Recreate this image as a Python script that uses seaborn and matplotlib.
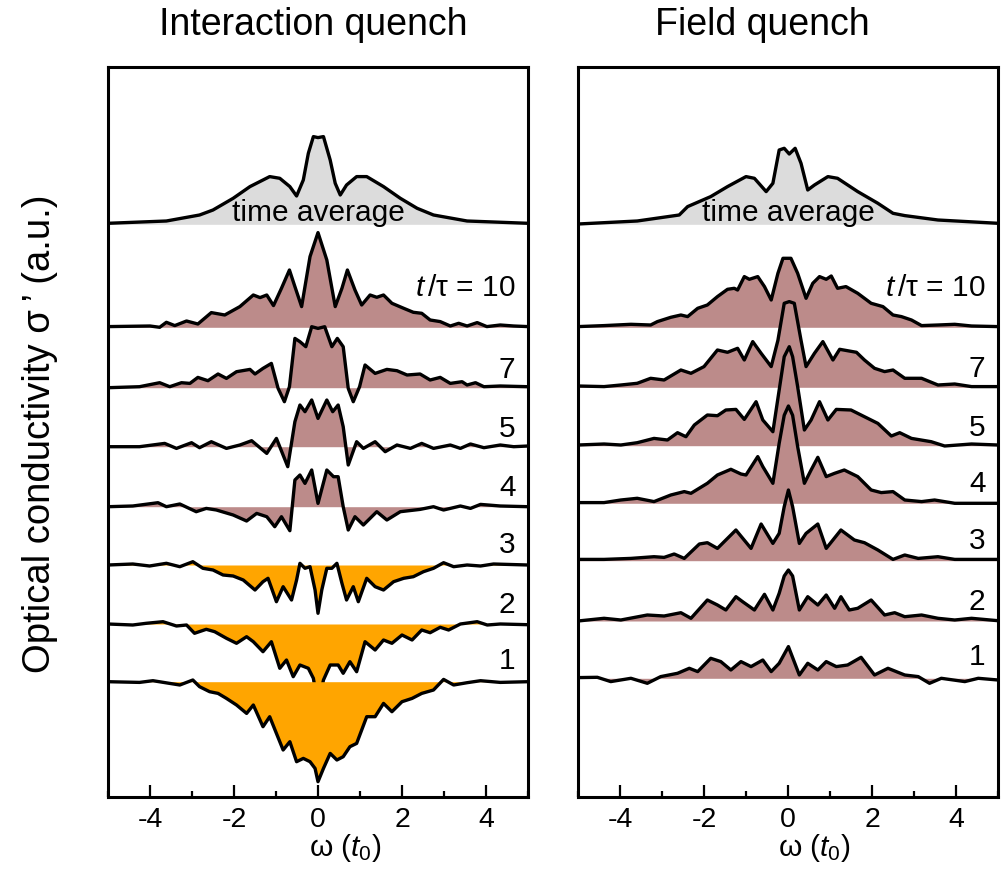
import numpy as np
import pandas as pd
import matplotlib
matplotlib.use("Agg")
import matplotlib.pyplot as plt
import seaborn as sns
from matplotlib.ticker import MultipleLocator, FixedLocator

# ---------------- data: Interaction quench (left) ----------------
iq_avg_w = [-5.0, -3.61, -2.82, -2.50, -2.02, -1.62, -1.15, -0.91, -0.67, -0.51, -0.35, -0.23, -0.11, 0.0, 0.13,
            0.29, 0.41, 0.53, 0.68, 0.92, 1.16, 1.56, 1.96, 2.36, 2.75, 3.55, 5.0]
iq_avg_h = [1.0, 3.3, 9.3, 14.3, 26, 37.7, 47.7, 46, 37.7, 28.3, 44.3, 71, 87.7, 86.7, 87.7,
            64.3, 41, 29.3, 39.3, 47.7, 47.7, 37.7, 26, 16, 9.3, 3.3, 1.0]

iq_10_w = [-5.0, -4.0, -3.77, -3.61, -3.41, -3.13, -2.86, -2.54, -2.22, -1.86, -1.54, -1.38, -1.22, -1.06, -0.87,
           -0.68, -0.55, -0.39, -0.19, 0.0, 0.21, 0.41, 0.57, 0.70, 0.88, 1.04, 1.24, 1.40, 1.56, 1.76, 2.04,
           2.27, 2.47, 2.67, 2.91, 3.15, 3.35, 3.55, 3.79, 4.02, 4.34, 4.66, 5.0]
iq_10_h = [0.7, 1.3, 0, 5, 1.7, 6.3, 3.3, 14.7, 12.3, 20.7, 32.3, 29.7, 32.3, 21.7, 39,
           57.3, 40.7, 20.7, 70.7, 94.7, 67.3, 20.7, 39, 57.3, 37.3, 22.3, 32.3, 30, 32.3, 24, 19,
           15, 14, 7.3, 5.7, 1.3, 4, 1.3, 4.7, 0.7, 2.3, 1.3, 0.7]

iq_7_w = [-5.0, -4.25, -3.77, -3.53, -3.25, -3.05, -2.86, -2.62, -2.38, -2.18, -1.94, -1.62, -1.50, -1.31, -1.11,
          -0.95, -0.80, -0.68, -0.55, -0.43, -0.29, -0.15, 0.0, 0.16, 0.33, 0.46, 0.60, 0.72, 0.84, 0.99,
          1.12, 1.36, 1.64, 1.88, 2.12, 2.43, 2.67, 2.91, 3.15, 3.43, 3.55, 3.75, 3.95, 4.34, 5.0]
iq_7_h = [0, 1, 5, 1, 5, 4.3, 10.3, 7, 13.7, 9.3, 16, 18.3, 13.7, 19.3, 24.3,
          -0.7, -14, 1, 49.3, 46, 41, 61, 59.3, 61, 41, 49.3, 41, -0.7, -14, 1,
          22.7, 14.3, 18.3, 17, 12.7, 13.7, 7.7, 10.3, 4.3, 6, 2.7, 5, 1, 1.7, 1]

iq_5_w = [-5.0, -4.25, -3.65, -3.37, -3.01, -2.82, -2.54, -2.18, -1.86, -1.58, -1.22, -0.99, -0.72, -0.55,
          -0.43, -0.31, -0.15, 0.0, 0.21, 0.35, 0.48, 0.60, 0.72, 0.92, 1.08, 1.36, 1.60, 1.88, 2.20,
          2.47, 2.75, 3.15, 3.39, 3.63, 3.95, 4.34, 4.66, 5.0]
iq_5_h = [0, 0, 3.3, -1.7, 4, -1, 5, -1.7, 1.7, 6, -6.7, 8.3, -20, 25,
          41.7, 35, 46.7, 28.3, 46.7, 35, 41.7, 20, -18.3, 5, -1.7, 5, -5, 1.7, -1.7,
          3.3, -1.7, 1.7, -1.7, 2.7, -1, 1.7, 0, 0.7]

iq_4_w = [-5.0, -4.41, -3.81, -3.61, -3.29, -2.90, -2.66, -2.42, -2.02, -1.70, -1.46, -1.22, -1.03, -0.87,
          -0.67, -0.55, -0.43, -0.31, -0.15, 0.0, 0.21, 0.37, 0.48, 0.60, 0.72, 0.88, 1.08, 1.40, 1.64,
          1.96, 2.43, 2.75, 2.99, 3.39, 3.63, 3.87, 4.34, 5.0]
iq_4_h = [0, 0.7, 4, 0, 2.7, -5, -1.7, -3.3, -8.3, -14.3, -6.7, -10, -20, -10,
          -24, 26.7, 31.7, 23.3, 36.7, 3.3, 36.7, 30, 30, 0, -23.3, -10, -18.3, -5, -13.3,
          -5, -2.7, 0, -3.3, 0.7, -1.7, 2.3, 0.7, 0]

iq_3_w = [-5.0, -4.41, -4.01, -3.61, -3.29, -2.98, -2.74, -2.50, -2.26, -2.02, -1.78, -1.50, -1.31, -1.19,
          -0.99, -0.83, -0.63, -0.51, -0.43, -0.31, -0.19, -0.07, 0.0, 0.09, 0.21, 0.33, 0.45, 0.57, 0.68,
          0.84, 0.96, 1.16, 1.36, 1.56, 1.80, 2.04, 2.27, 2.51, 2.75, 2.99, 3.23, 3.55, 3.87, 4.18, 5.0]
iq_3_h = [0, 1, -1, 1.7, -1.7, 3.3, -3.3, -5, -10, -11, -15, -25, -16.7, -13.3,
          -36.7, -21.7, -35, -15, 1.7, -3.3, -1.7, -25, -48.3, -25, -3.3, -3.3, 1.7, -18.3, -35,
          -21.7, -36.7, -13.3, -21.7, -25, -16.7, -13.3, -11.7, -6.7, -3.3, 2.3, -1.7, 0, -1, 1, 0]

iq_2_w = [-5.0, -4.41, -4.09, -3.69, -3.37, -3.13, -2.94, -2.66, -2.46, -2.18, -1.94, -1.70, -1.54, -1.31,
          -1.11, -0.91, -0.75, -0.59, -0.43, -0.23, -0.11, 0.0, 0.13, 0.29, 0.48, 0.60, 0.76, 0.92, 1.12,
          1.36, 1.56, 1.76, 2.00, 2.24, 2.47, 2.67, 2.91, 3.11, 3.39, 3.79, 4.03, 4.34, 5.0]
iq_2_h = [0, -1, 0.7, 2.3, -2, -1, -9.3, -5.3, -7.7, -14.3, -19.3, -12.7, -17.7, -27.7,
          -17.7, -44.3, -36, -52.7, -41, -44.3, -54.3, -82.7, -56, -41, -41, -49.3, -37.7, -47.7, -17.7,
          -26, -16, -19.3, -11, -16, -6, -8.7, -3.3, -6, 0, 2.3, -1, 0, -0.7]

iq_1_w = [-5.0, -4.25, -3.93, -3.53, -3.29, -2.98, -2.82, -2.58, -2.38, -2.18, -1.94, -1.70, -1.54, -1.31,
          -1.15, -0.99, -0.83, -0.67, -0.51, -0.35, -0.19, -0.07, 0.0, 0.13, 0.29, 0.45, 0.60, 0.76, 0.92,
          1.16, 1.36, 1.56, 1.76, 2.00, 2.24, 2.47, 2.75, 2.99, 3.23, 3.55, 3.87, 4.34, 5.0]
iq_1_h = [0, -0.7, 1, -1.7, -3.3, 1.7, -5, -10, -11.7, -16.7, -23.3, -31.7, -23.3, -45,
          -35, -51.7, -68.3, -60, -80, -76.7, -80, -86.7, -100, -86.7, -71.7, -78.3, -75, -65, -61.7,
          -35, -35, -21.7, -30, -20, -16.7, -11.7, -8.3, 2.3, -3.3, -1, 1, -0.7, 0]

# ---------------- data: Field quench (right) ----------------
fq_avg_w = [-5.0, -3.59, -2.59, -2.39, -1.84, -1.44, -1.00, -0.80, -0.52, -0.36, -0.21, -0.09, 0.03, 0.17,
            0.31, 0.47, 0.63, 0.95, 1.18, 1.66, 2.14, 2.50, 2.78, 3.57, 5.0]
fq_avg_h = [0.3, 3.3, 9.3, 17.7, 27.7, 37.7, 47.7, 46, 32.7, 41, 74.3, 76, 70.3, 76,
            61, 34.3, 39.3, 47.7, 46, 32.7, 21, 11, 8.7, 4.3, 1]

fq_10_w = [-5.0, -4.38, -3.74, -3.27, -3.11, -2.79, -2.55, -2.39, -2.15, -1.92, -1.68, -1.44, -1.28, -1.20,
           -1.04, -0.92, -0.72, -0.56, -0.40, -0.24, -0.12, 0.07, 0.23, 0.43, 0.59, 0.75, 0.91, 1.03, 1.18,
           1.38, 1.66, 1.98, 2.26, 2.50, 2.70, 2.94, 3.18, 3.57, 3.97, 4.37, 5.0]
fq_10_h = [0.7, 1.7, 3, 2.3, 5.7, 10, 12.3, 10.7, 19, 22.3, 30.7, 38, 39, 37.3,
           50.7, 48, 50.7, 40.7, 27.3, 54, 69, 69, 54, 29, 44, 50.7, 48, 51.3, 39,
           40.7, 34, 24, 20.7, 12.3, 10.7, 7.3, 1.7, 2.3, 3, 1.3, 0.7]

fq_7_w = [-5.0, -4.38, -3.98, -3.59, -3.27, -2.95, -2.55, -2.31, -2.00, -1.68, -1.44, -1.20, -1.04, -0.84,
          -0.64, -0.40, -0.24, -0.09, 0.03, 0.15, 0.31, 0.43, 0.63, 0.83, 1.07, 1.23, 1.63, 1.82, 2.06,
          2.30, 2.50, 2.78, 3.18, 3.57, 3.97, 4.37, 5.0]
fq_7_h = [1.3, 0.7, 2.3, 4, 9, 7.3, 17.3, 14, 20.7, 37.3, 35, 39, 27.3, 45.7,
          34, 20.7, 47, 84, 85.7, 84, 47, 20.7, 34, 45.7, 27.3, 38, 35, 27.3, 19,
          15.7, 17.3, 9, 9, 2.3, 3.3, 0.7, 0.7]

fq_5_w = [-5.0, -4.38, -3.98, -3.59, -3.19, -2.87, -2.63, -2.43, -2.23, -1.92, -1.68, -1.48, -1.24, -1.04,
          -0.76, -0.60, -0.36, -0.21, -0.09, 0.03, 0.11, 0.23, 0.39, 0.55, 0.75, 0.95, 1.15, 1.50, 1.82,
          2.14, 2.46, 2.66, 2.94, 3.41, 3.73, 4.37, 5.0]
fq_5_h = [0.7, 1.7, 0.7, 3, 7.3, 5.7, 13, 9, 20.7, 30.7, 30, 35.7, 36.3, 26.3,
          44, 25.7, 14, 55.7, 89, 99, 89, 59, 15.7, 25.7, 44, 25.7, 36.3, 35.7, 29,
          22.3, 9.7, 13, 7.3, 4, -0.3, 1.7, 0.7]

fq_4_w = [-5.0, -4.38, -3.98, -3.59, -3.19, -2.79, -2.47, -2.31, -1.92, -1.68, -1.36, -1.12, -1.00, -0.72,
          -0.60, -0.36, -0.21, -0.09, 0.01, 0.11, 0.23, 0.39, 0.55, 0.71, 0.91, 1.11, 1.34, 1.66, 1.98,
          2.22, 2.50, 2.78, 3.18, 3.49, 3.97, 5.0]
fq_4_h = [0.7, 0.7, 3.3, 5, 1.7, 8.3, 11.7, 10, 20, 28.3, 34, 29.3, 28.3, 46.7,
          36.7, 20, 60, 88, 97.3, 88, 56.7, 20, 33.3, 46, 26.7, 30, 33.3, 26.7, 13.3,
          10.7, 11.7, 3.3, 1.7, 3.3, 0, 0]

fq_3_w = [-5.0, -4.38, -3.74, -3.19, -2.95, -2.71, -2.47, -2.11, -1.92, -1.68, -1.24, -0.88, -0.64, -0.36,
          -0.21, -0.09, 0.01, 0.11, 0.27, 0.43, 0.71, 0.91, 1.26, 1.58, 1.82, 2.14, 2.50, 2.78, 3.10,
          3.57, 3.97, 5.0]
fq_3_h = [1.3, 1.3, 2.3, 4, 3.3, 6.7, 2.3, 16.7, 18, 12.3, 30.7, 12.3, 36.7, 17.3,
          27.3, 54, 70.7, 54, 17.3, 27.3, 36.7, 12.3, 30.7, 20.7, 18, 10.7, 1.3, 5.7, 2.3,
          4, 1.3, 1.3]

fq_2_w = [-5.0, -4.38, -3.98, -3.35, -2.95, -2.55, -2.31, -1.92, -1.68, -1.48, -1.24, -1.08, -0.80, -0.56,
          -0.36, -0.21, -0.09, 0.01, 0.11, 0.27, 0.47, 0.71, 0.91, 1.11, 1.26, 1.46, 1.66, 1.98, 2.30,
          2.54, 2.78, 3.18, 3.57, 3.97, 4.37, 5.0]
fq_2_h = [0, 2.7, 1, 6, 5, 8.3, 2.7, 21, 16, 11, 24.3, 19.3, 11, 26.7,
          11, 27.7, 45, 51, 45, 11, 24.3, 16, 26, 12.7, 24.3, 11, 12.7, 21, 6,
          8.3, 4.3, 6, 2.7, 1, 2.7, 0.3]

fq_1_w = [-5.0, -4.54, -4.22, -3.74, -3.35, -3.03, -2.63, -2.35, -2.15, -1.84, -1.60, -1.36, -1.12, -0.88,
          -0.60, -0.40, -0.21, 0.01, 0.27, 0.47, 0.71, 0.91, 1.15, 1.42, 1.74, 2.06, 2.38, 2.78, 3.10,
          3.37, 3.65, 4.21, 4.53, 5.0]
fq_1_h = [0.7, 1, -3.3, 0, -5, 1.7, 5, 10, 6.7, 20, 16.7, 8.3, 16.7, 11.7,
          18.3, 6.7, 15, 31.7, 3.3, 15, 8.3, 16.7, 11.7, 13.3, 21, 3.3, 10, 3.3, 1.7,
          -5, 0, -3.3, 0, -1.7]

curve_labels = [None, r"$t\,$/τ = 10", "7", "5", "4", "3", "2", "1"]
titles = ["Interaction quench", "Field quench"]
xtick_vals = [-4, -2, 0, 2, 4]

# ---------------- layout / style ----------------
GRAY = "#dcdcdc"
BROWN = "#bc8b8a"
ORANGE = "#ffa500"
left_colors = [GRAY, BROWN, BROWN, BROWN, BROWN, ORANGE, ORANGE, ORANGE]
right_colors = [GRAY] + [BROWN] * 7
left_offsets = [572.7, 469.7, 409.3, 350.3, 290.3, 232.0, 173.0, 115.3]
right_offsets = [572.7, 469.7, 409.7, 351.3, 293.7, 236.3, 176.0, 118.7]
label_dy = [11.3, 39, 18, 18, 19, 20, 19, 21]

sns.set_theme(style="white")
plt.rcParams['font.family'] = ['Liberation Sans', 'DejaVu Sans']
plt.rcParams['axes.unicode_minus'] = False
plt.rcParams['mathtext.fontset'] = 'custom'
plt.rcParams['mathtext.rm'] = 'Liberation Sans'
plt.rcParams['mathtext.it'] = 'Liberation Sans:italic'
plt.rcParams['text.color'] = 'black'
plt.rcParams['xtick.color'] = 'black'
plt.rcParams['xtick.labelcolor'] = 'black'
plt.rcParams['axes.labelcolor'] = 'black'

W, H = 1003, 877
fig = plt.figure(figsize=(W / 100, H / 100), dpi=100)
fig.patch.set_facecolor("white")
axL = fig.add_axes([108 / W, 80 / H, 420 / W, 730 / H])
axR = fig.add_axes([578 / W, 80 / H, 420 / W, 730 / H])

left_curves = [(iq_avg_w, iq_avg_h), (iq_10_w, iq_10_h), (iq_7_w, iq_7_h), (iq_5_w, iq_5_h),
               (iq_4_w, iq_4_h), (iq_3_w, iq_3_h), (iq_2_w, iq_2_h), (iq_1_w, iq_1_h)]
right_curves = [(fq_avg_w, fq_avg_h), (fq_10_w, fq_10_h), (fq_7_w, fq_7_h), (fq_5_w, fq_5_h),
                (fq_4_w, fq_4_h), (fq_3_w, fq_3_h), (fq_2_w, fq_2_h), (fq_1_w, fq_1_h)]


def draw_panel(ax, curves, offsets, colors):
    for i, ((w, h), off, col) in enumerate(zip(curves, offsets, colors)):
        n = min(len(w), len(h))
        w = np.asarray(w[:n], dtype=float)
        y = off + np.asarray(h[:n], dtype=float)
        z = 2 + 2 * i
        ax.fill_between(w, y, off, color=col, lw=0, zorder=z)
        df = pd.DataFrame({"w": w, "y": y})
        sns.lineplot(data=df, x="w", y="y", ax=ax, color="black", lw=2.4,
                     sort=False, estimator=None, zorder=z + 1)
        if i == 0:
            ax.text(0, off + label_dy[i], "time average", ha="center", va="center",
                    fontsize=21.5, zorder=40, color="black")
        else:
            ax.text(4.7, off + label_dy[i], curve_labels[i], ha="right", va="center",
                    fontsize=21.5, zorder=40, color="black")
    ax.set_xlim(-5, 5)
    ax.set_ylim(0, 730)
    ax.set_xlabel("")
    ax.set_ylabel("")
    ax.set_yticks([])
    ax.xaxis.set_major_locator(FixedLocator(xtick_vals))
    ax.xaxis.set_minor_locator(MultipleLocator(1))
    ax.tick_params(axis="x", which="major", direction="in", length=8.5, width=1.6,
                   labelsize=20.5, pad=7, bottom=True, top=False, color="black",
                   labelcolor="black")
    ax.tick_params(axis="x", which="minor", direction="in", length=4.5, width=1.6,
                   bottom=True, top=False, color="black")
    ax.set_xticklabels([str(v) for v in xtick_vals])
    for s in ax.spines.values():
        s.set_linewidth(2.2)
        s.set_color("black")
        s.set_zorder(50)


draw_panel(axL, left_curves, left_offsets, left_colors)
draw_panel(axR, right_curves, right_offsets, right_colors)

fig.text(313 / W, 1 - 25 / H, titles[0], ha="center", va="center", fontsize=27)
fig.text(762 / W, 1 - 25 / H, titles[1], ha="center", va="center", fontsize=27)
fig.text(40 / W, 1 - 434 / H, "Optical conductivity σ\u2009’ (a.u.)", rotation=90,
         ha="center", va="center", fontsize=27.5)
for cx in (345, 814):
    fig.text(cx / W, 1 - 848 / H, r"ω ($t_0$)", ha="center", va="center", fontsize=21.5)

fig.savefig("out.png", dpi=100, facecolor="white")
